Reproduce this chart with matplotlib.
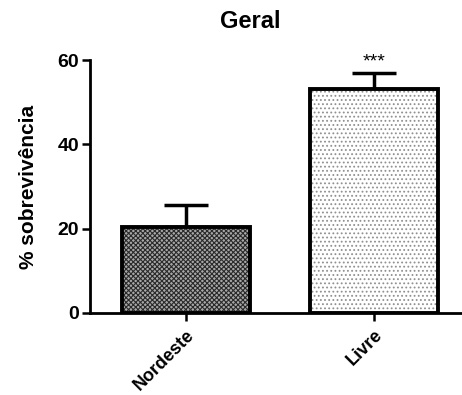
import matplotlib
matplotlib.use("Agg")
import matplotlib.pyplot as plt

# Data
groups = ["Nordeste", "Livre"]
survival = [20.3, 53.1]
sem = [5.3, 3.8]
signif = ["", "***"]

plt.rcParams["font.family"] = ["Liberation Sans", "DejaVu Sans"]
plt.rcParams["font.weight"] = "bold"
plt.rcParams["hatch.linewidth"] = 0.8

fig = plt.figure(figsize=(4.62, 3.95), dpi=100)
ax = fig.add_axes([0.195, 0.2076, 0.805, 0.6405])

x = list(range(len(groups)))
bars = ax.bar(x, survival, width=0.68, color="white", edgecolor="black", linewidth=2.8, zorder=2)
bars[0].set_facecolor("#a8a8a8")
bars[0].set_hatch("xxxxxxx")
bars[1].set_hatch("....")

# hatch colours
bars[0]._hatch_color = matplotlib.colors.to_rgba("#2a2a2a")
bars[1]._hatch_color = matplotlib.colors.to_rgba("#909090")

# error bars (upper only)
ax.errorbar(x, survival, yerr=[[0, 0], sem], fmt="none", ecolor="black",
            elinewidth=2.5, capsize=16, capthick=2.5, zorder=1)

for xi, (v, e, s) in enumerate(zip(survival, sem, signif)):
    if s:
        ax.text(xi, v + e + 0.5, s, ha="center", va="bottom", fontsize=14, fontweight="normal")

ax.set_xlim(-0.51, 1.468)
ax.set_ylim(0, 60)
ax.set_yticks([0, 20, 40, 60])
ax.set_xticks(x)
ax.set_xticklabels(groups, rotation=45, ha="right", rotation_mode="anchor", fontsize=13, fontweight="bold")
ax.tick_params(axis="y", labelsize=14, width=1.8, length=6, pad=2)
ax.tick_params(axis="x", width=1.8, length=6)
for lbl in ax.get_yticklabels():
    lbl.set_fontweight("bold")

ax.spines["top"].set_visible(False)
ax.spines["right"].set_visible(False)
ax.spines["left"].set_linewidth(2)
ax.spines["bottom"].set_linewidth(2)

ax.set_ylabel("% sobrevivência", fontsize=15, fontweight="bold", labelpad=14)
fig.text(250 / 462, 1 - 22 / 395, "Geral", ha="center", va="center", fontsize=17, fontweight="bold")

fig.savefig("out.png", dpi=100)
